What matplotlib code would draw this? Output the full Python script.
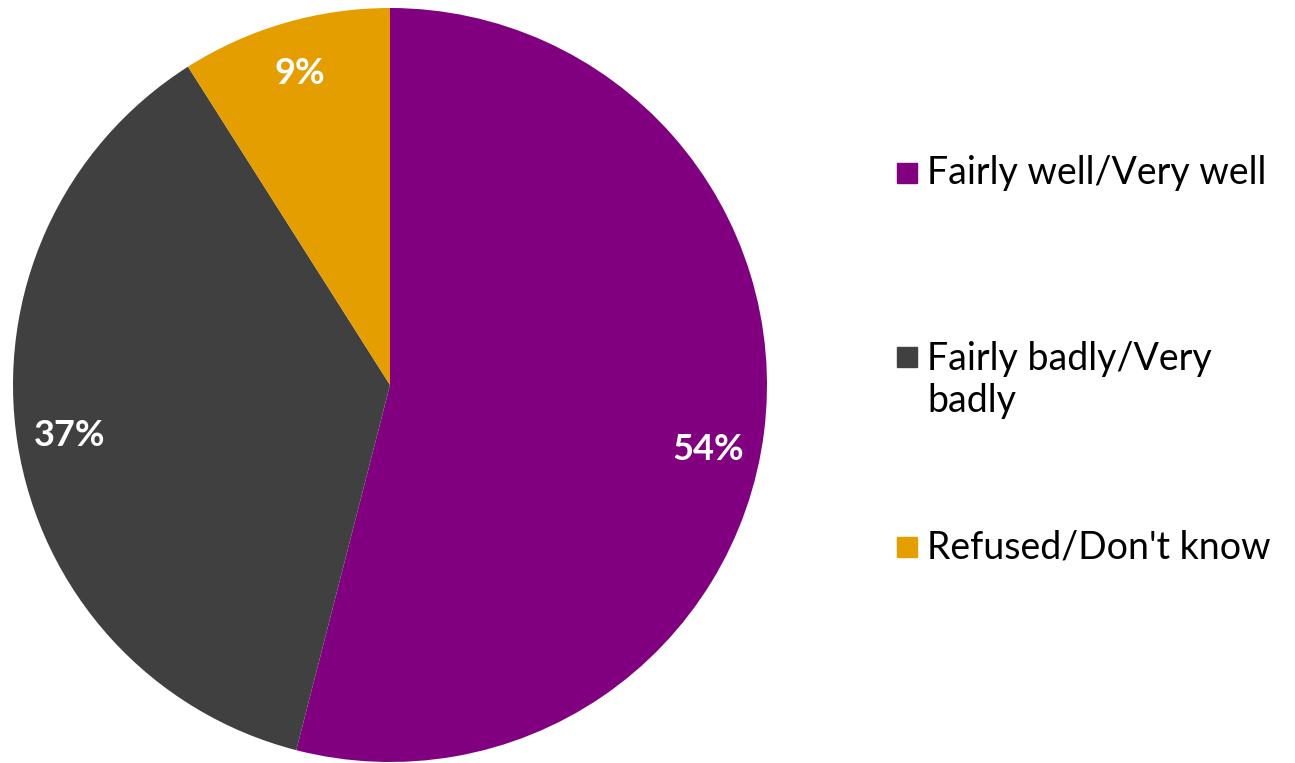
import numpy as np
import matplotlib.pyplot as plt
from matplotlib.patches import Rectangle

# survey answers, clockwise from 12 o'clock
categories = ["Fairly well/Very well", "Fairly badly/Very\nbadly", "Refused/Don't know"]
shares = [54, 37, 9]
colours = ["#800080", "#404040", "#E59E00"]

plt.rcParams["font.family"] = ["Lato", "DejaVu Sans"]

W, H = 1295, 763
fig = plt.figure(figsize=(W / 100, H / 100), dpi=100)

cx, cy, r = 390, 385, 377
ax = fig.add_axes([(cx - r) / W, (H - cy - r) / H, 2 * r / W, 2 * r / H])
wedges, _, pcts = ax.pie(shares, colors=colours, startangle=90, counterclock=False,
                         autopct="%d%%", pctdistance=0.86, radius=1,
                         textprops=dict(color="white", fontsize=26, fontweight="bold"))
ax.set_xlim(-1, 1)
ax.set_ylim(-1, 1)
ax.set_aspect("equal")

# the big slice's label sits a bit lower than its mid-angle
a = np.deg2rad(-11.5)
pcts[0].set_position((0.86 * np.cos(a), 0.86 * np.sin(a)))

# legend on the right, spaced out by hand
leg_y = [173, 357, 547]
for lab, col, y in zip(categories, colours, leg_y):
    fig.patches.append(Rectangle((897 / W, (H - y - 10) / H), 20 / W, 20 / H,
                                 transform=fig.transFigure, color=col))
    ty = y + 23 if "\n" in lab else y
    fig.text(927 / W, (H - ty) / H, lab, fontsize=27, va="center",
             color="black", linespacing=1.2)

fig.savefig("out.png", dpi=100)
